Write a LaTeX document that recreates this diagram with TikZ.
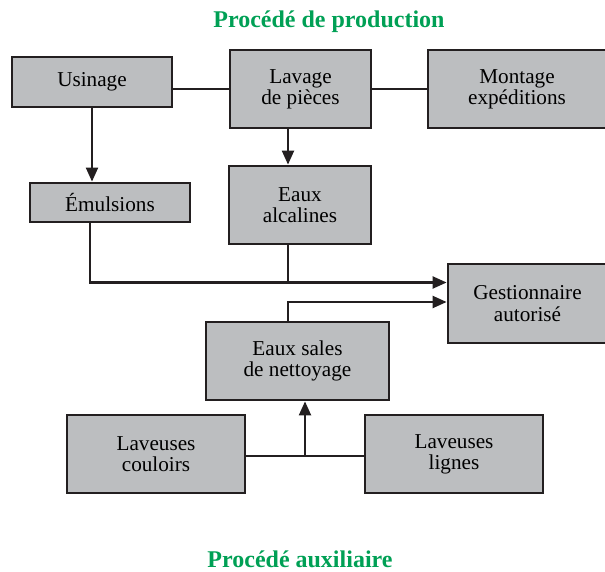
\documentclass[tikz,border=0pt]{standalone}
\usepackage{fontspec}
\setmainfont{Liberation Serif}
\usetikzlibrary{arrows.meta}

\definecolor{titlegreen}{RGB}{0,160,85}
\definecolor{boxgray}{RGB}{188,190,192}
\definecolor{inkline}{RGB}{35,31,32}

\begin{document}
\begin{tikzpicture}[x=0.5pt, y=-0.5pt,
	font=\fontsize{10.6}{10.6}\selectfont,
	box/.style={draw=inkline, line width=1.4pt, fill=boxgray, rectangle, align=center, inner sep=0pt},
	link/.style={draw=inkline, line width=1.1pt},
	flow/.style={link, -{Triangle[length=7pt, width=6pt]}},
	heading/.style={text=titlegreen, font=\fontsize{12}{13}\selectfont\bfseries}]

	\useasboundingbox (0,0) rectangle (605,572);

	%% The titles
	\node[heading] at (329, 22) (top) {Procédé de production};
	\node[heading] at (300,559) (bottom) {Procédé auxiliaire};

	%% The production row
	\node[box, minimum width=80pt, minimum height=25pt] at ( 92, 82) (usi) {Usinage};
	\node[box, minimum width=70.5pt, minimum height=39pt] at (300.5, 89) (lav) {Lavage\\de pièces};
	\node[box, minimum width=89pt, minimum height=39pt] at (517, 89) (mon) {Montage\\expéditions};

	%% The waste row
	\node[box, minimum width=80pt, minimum height=19.5pt] at (110,202.5) (emu) {Émulsions};
	\node[box, minimum width=71pt, minimum height=39pt] at (300,205) (alc) {Eaux\\alcalines};
	\node[box, minimum width=79.5pt, minimum height=39.5pt] at (527.5,303.5) (ges) {Gestionnaire\\autorisé};

	%% The auxiliary rows
	\node[box, minimum width=91.5pt, minimum height=39pt] at (297.5,361) (sal) {Eaux sales\\de nettoyage};
	\node[box, minimum width=89pt, minimum height=39pt] at (156,454) (cou) {Laveuses\\couloirs};
	\node[box, minimum width=89pt, minimum height=39pt] at (454,454) (lig) {Laveuses\\lignes};

	%% Junctions
	\coordinate (jn) at (288,282);
	\coordinate (mid) at (305,456);

	%% The connectors
	\draw[link] (usi.east |- lav.west) -- (lav.west);
	\draw[link] (lav.east) -- (mon.west);
	\draw[flow] (usi.south) -- (usi.south |- emu.north);
	\draw[flow] (lav.south -| jn) -- (alc.north -| jn);
	\draw[flow] ([xshift=-10pt]emu.south) |- ([yshift=10.5pt]ges.west);
	\draw[link] (alc.south -| jn) -- (jn);
	\draw[flow] (sal.north -| jn) |- ([yshift=0.75pt]ges.west);
	\draw[link] (cou.east |- mid) -- (lig.west |- mid);
	\draw[flow] (mid) -- (mid |- sal.south);

\end{tikzpicture}
\end{document}
